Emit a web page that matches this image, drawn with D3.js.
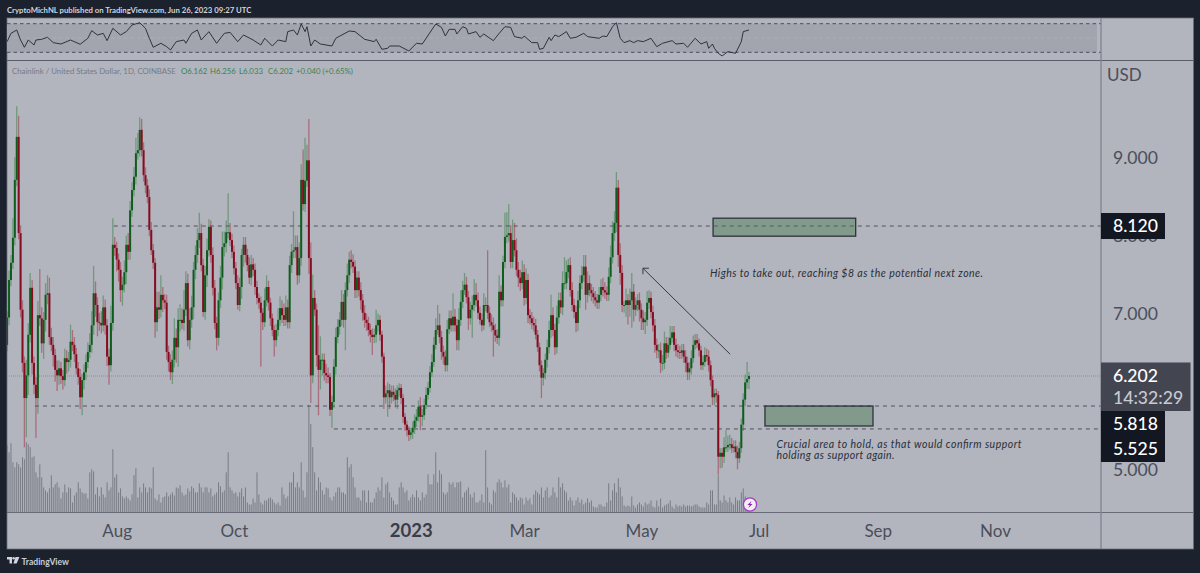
<!DOCTYPE html>
<html><head><meta charset="utf-8">
<script src="https://cdn.jsdelivr.net/npm/d3@7/dist/d3.min.js"></script>
<style>html,body{margin:0;padding:0;background:#1c212e;overflow:hidden}svg{display:block}text{font-family:Lato,"Open Sans",sans-serif}</style>
</head><body><svg id="c" width="1200" height="573"></svg>
<script>
const firstDay = "2022-06-04";
const closes = [
6.60,6.95,7.43,7.65,7.97,8.71,9.26,8.03,7.05,6.37,
5.92,6.21,6.73,7.33,6.37,6.09,5.92,6.98,6.94,6.62,
6.92,7.24,7.26,6.70,6.60,6.47,6.28,6.21,6.30,6.20,
6.15,6.43,6.38,6.41,6.64,6.60,6.48,6.30,6.19,5.93,
6.15,6.25,6.38,6.51,6.60,6.85,7.26,7.11,6.89,6.88,
6.85,7.08,6.85,6.45,6.34,6.88,7.88,7.84,7.69,7.56,
7.30,7.37,7.53,7.88,7.79,8.32,8.58,8.75,9.05,9.09,
9.35,9.09,8.77,8.64,8.49,8.07,7.81,7.65,6.89,7.08,
7.05,7.24,7.17,7.14,6.51,6.38,6.25,6.41,6.69,6.57,
6.92,6.92,6.88,7.05,7.39,6.66,6.92,7.08,7.56,7.75,
7.94,8.03,7.62,7.02,7.49,7.81,8.11,7.75,7.33,6.88,
6.69,7.17,7.46,7.85,7.90,8.04,8.04,7.94,7.79,7.58,
7.39,7.11,7.34,7.75,7.88,7.75,7.62,7.46,7.63,7.56,
7.34,7.20,7.14,7.01,6.89,7.17,7.34,7.14,6.94,6.79,
6.66,6.79,6.92,7.07,6.98,6.92,7.08,6.89,7.62,7.79,
7.81,7.85,7.49,7.71,8.71,8.40,8.70,8.96,7.71,6.21,
7.20,7.05,6.47,6.28,6.41,6.41,6.24,6.21,6.19,5.77,
5.87,6.32,6.70,6.83,6.92,7.15,6.92,7.30,7.49,7.69,
7.66,7.60,7.30,7.46,7.30,7.17,7.01,6.92,6.88,6.79,
6.73,6.70,6.73,6.85,6.92,6.73,6.45,5.93,5.98,6.02,
5.93,6.00,5.96,5.90,6.02,6.05,5.92,5.68,5.58,5.51,
5.45,5.48,5.54,5.63,5.68,5.81,5.68,5.70,5.83,5.96,
6.05,6.25,6.38,6.60,6.79,6.85,6.70,6.51,6.45,6.34,
6.80,6.94,6.85,6.96,6.85,6.66,6.92,7.15,7.30,7.37,
7.21,6.94,7.05,7.11,7.24,7.17,7.01,6.92,6.85,7.11,
7.11,7.01,6.89,6.85,6.79,6.72,6.69,7.28,7.17,7.66,
7.98,8.00,8.03,7.66,7.94,7.81,7.56,7.46,7.39,7.53,
7.20,7.43,6.98,6.94,6.88,6.85,6.73,6.57,6.34,6.18,
6.24,6.41,6.57,6.79,6.98,6.79,6.57,6.95,7.17,7.08,
7.39,7.39,7.53,7.62,7.30,7.11,7.02,6.88,7.17,7.39,
7.49,7.60,7.24,7.39,7.30,7.26,7.21,7.17,7.14,7.24,
7.34,7.30,7.27,7.24,7.47,7.72,8.03,8.16,8.61,7.75,
7.52,7.11,7.11,7.17,7.11,7.17,7.28,7.05,7.11,7.17,
7.05,6.94,6.89,6.92,7.14,7.20,7.02,6.85,6.60,6.53,
6.53,6.37,6.37,6.62,6.50,6.60,6.69,6.76,6.60,6.53,
6.51,6.50,6.53,6.45,6.37,6.25,6.30,6.43,6.60,6.66,
6.62,6.53,6.34,6.38,6.47,6.45,6.34,6.15,5.93,5.98,
5.96,5.17,5.22,5.17,5.29,5.29,5.32,5.33,5.28,5.30,
5.23,5.15,5.28,5.58,5.90,6.12,6.162,6.202];
const upperWickCents = [
10,8,12,10,25,29,39,27,10,12,
8,20,15,19,10,8,10,18,59,14,
10,15,23,20,12,10,8,12,10,8,
8,12,10,10,22,15,10,8,8,10,
8,10,10,12,15,18,35,15,10,12,
15,15,10,8,10,22,34,10,8,8,
10,10,15,12,15,12,10,12,20,22,
16,14,10,10,8,10,10,8,6,20,
20,25,10,8,10,8,10,12,25,12,
15,20,15,25,15,12,15,15,10,12,
15,26,12,8,12,15,10,8,10,10,
8,10,15,20,15,15,50,12,8,8,
8,10,12,8,10,10,8,10,12,8,
8,8,6,8,6,15,15,8,6,6,
6,8,15,15,10,15,15,10,12,10,
50,15,15,20,20,39,55,20,53,20,
30,10,8,38,30,8,8,12,10,5,
8,10,12,10,10,15,10,10,15,10,
12,10,8,8,8,10,8,10,8,8,
8,8,8,20,8,6,5,5,10,10,
8,8,8,8,6,6,5,5,5,5,
5,6,8,8,10,8,12,8,8,10,
8,8,10,10,15,26,15,8,8,8,
12,10,10,30,10,8,15,15,12,15,
10,8,10,12,20,15,10,8,8,15,
10,70,8,10,10,8,8,21,8,8,
31,30,37,10,26,22,15,10,10,15,
10,15,8,8,8,8,8,6,6,6,
6,8,10,12,26,10,8,15,10,10,
15,33,15,8,10,10,8,8,12,10,
12,15,15,15,10,8,8,8,8,10,
10,12,10,8,12,15,15,15,20,10,
15,10,5,15,8,15,24,10,10,8,
10,8,10,10,15,10,8,8,8,8,
8,10,10,15,8,10,15,8,8,8,
8,8,8,8,8,8,8,10,12,8,
8,6,6,8,10,8,8,6,6,6,
6,5,6,6,13,22,12,12,8,8,
8,8,8,8,8,10,22,5];
const lowerWickCents = [
10,8,10,8,8,10,8,8,10,12,
63,50,25,10,15,12,51,20,10,12,
20,15,12,10,8,15,15,20,12,10,
12,8,15,12,10,8,10,8,10,15,
23,12,10,8,8,10,12,15,18,10,
10,8,12,12,25,8,10,10,15,15,
15,20,10,15,10,10,8,8,10,8,
8,8,8,10,8,8,6,8,20,12,
12,10,15,8,10,12,10,15,10,20,
25,15,8,10,8,8,12,10,15,12,
10,10,8,6,10,15,8,10,10,8,
16,10,10,15,12,12,8,8,8,8,
8,6,8,15,15,10,8,8,10,8,
10,8,8,69,10,6,8,10,10,8,
21,8,8,8,10,8,8,8,8,10,
8,10,12,10,10,8,10,8,20,35,
10,8,15,58,25,20,10,10,8,8,
23,8,10,8,10,8,10,39,8,10,
8,8,10,10,8,12,10,10,10,8,
10,23,8,10,8,8,8,15,8,30,
15,8,8,10,12,8,8,8,8,8,
8,6,8,8,8,6,17,12,6,5,
6,6,6,6,6,6,8,10,10,8,
8,6,8,8,8,13,13,8,8,6,
8,15,8,36,8,8,8,6,8,6,
8,8,6,8,34,8,8,10,8,8,
8,8,8,8,8,8,8,12,10,8,
10,8,10,8,8,8,6,6,8,26,
10,8,10,8,10,8,10,8,8,8,
10,8,8,8,8,8,8,12,10,10,
8,8,19,10,8,10,8,8,8,8,
8,8,8,8,8,8,8,10,12,15,
15,9,10,15,25,15,35,15,8,8,
15,15,10,15,8,8,8,8,10,10,
10,13,10,8,8,6,6,6,8,8,
8,8,8,8,12,10,10,8,6,6,
6,8,6,6,6,6,8,8,10,10,
10,23,15,14,8,6,6,6,6,6,
8,14,6,6,8,8,8,13];
const volumes = [
60,67,60,69,50,45,50,48,45,55,
53,70,68,65,55,56,40,35,48,35,
25,22,20,24,37,25,28,30,25,14,
20,28,20,25,24,10,17,20,30,24,
20,19,19,14,40,43,41,18,25,16,
25,18,15,30,22,25,63,35,38,20,
24,16,14,16,14,12,18,37,44,15,
25,20,29,25,20,25,24,45,14,12,
18,10,15,16,20,16,18,20,17,25,
24,27,20,17,18,24,21,26,24,20,
20,29,25,20,25,25,20,24,16,18,
20,30,26,20,22,40,60,25,22,19,
20,16,20,24,16,25,10,8,8,14,
10,40,18,10,8,12,12,14,15,13,
10,8,10,7,25,18,14,16,30,30,
40,25,30,25,50,22,15,40,107,88,
65,40,22,35,30,22,18,25,24,15,
12,16,20,25,25,20,20,18,55,45,
48,35,25,15,15,12,22,22,10,22,
10,10,14,20,25,22,35,15,28,30,
20,15,12,8,8,25,30,25,20,22,
12,15,18,15,22,15,12,20,15,18,
38,28,28,38,60,30,42,38,20,18,
20,30,28,30,25,30,30,31,15,20,
22,25,18,15,20,10,10,12,18,10,
62,25,10,8,22,20,30,33,30,25,
32,25,28,10,20,18,15,12,15,14,
8,15,12,14,8,18,22,20,18,25,
15,22,25,15,17,25,20,15,35,25,
29,22,20,12,15,12,7,12,15,10,
13,8,10,14,10,12,6,5,5,8,
8,6,6,10,29,12,22,29,20,34,
25,16,7,6,7,6,16,7,5,8,
10,8,6,10,8,9,12,6,5,12,
6,14,5,7,8,9,12,6,4,8,
6,7,6,8,6,7,7,6,7,8,
8,6,5,5,5,10,8,22,22,8,
8,37,12,10,17,12,10,15,10,8,
15,12,12,20,24,16,14,10];
const rsiDays = [1,3,6,8,10,12,15,16,19,22,25,29,34,39,43,45,48,51,53,56,60,63,66,70,73,75,77,81,84,86,89,93,94,97,100,102,106,110,114,117,121,124,129,133,135,139,142,146,147,150,152,154,156,157,159,161,164,170,172,179,182,187,192,193,196,199,200,205,210,214,217,224,227,229,231,234,235,238,240,241,245,247,249,254,257,260,263,265,269,270,274,277,278,280,283,284,286,288,292,294,297,301,303,309,311,313,316,318,320,322,325,327,329,332,336,339,342,347,349,353,355,359,362,365,366,368,369,371,373,376,380,383,384,387];
const rsiValues = [44.9,56.5,61.2,47.2,37,47.2,40.2,47.2,48.2,51,43.5,41.6,47.2,41.2,49.6,60.3,54.2,56.5,46.3,63.5,54.2,58.9,68.2,71.4,63.5,49.6,37,42.6,37.9,33.3,44.9,47.2,42.6,56.5,61.2,47.2,58.9,42.6,56.5,57.9,44.9,54.2,47.2,40.2,49.6,38.8,47.2,44.9,58.9,61.2,54.2,69.6,58.9,65.8,38.8,47.2,41.6,38.8,49.6,59.8,58.9,48.2,44.9,48.2,34.2,35.6,38.8,38.8,31.9,42.6,41.6,69.6,64.9,52.8,62.1,62.1,55.6,65.8,63.5,55.6,58.9,51,55.6,46.3,56.5,65.8,64.9,51.9,49.6,52.8,43.5,43.5,34.2,35.6,51,46.3,54.2,51.9,58.9,49.6,51,56.5,51.9,49.6,52.8,51.9,65.8,71.4,49.6,43.5,46.3,43.5,46.3,44.9,49.6,37.9,42.6,46.3,41.6,42.6,37,49.6,41.6,44.9,35.6,41.6,35.6,28.6,24.9,30.9,28.6,44.9,58.9,61.2];
const priceTicks = [9,8,7,5];
const rsiLevels = [70,50,30];
const monthTicks = ["2022-08-01","2022-10-01","2023-01-01","2023-03-01","2023-05-01","2023-07-01","2023-09-01","2023-11-01"];
const levelLines = [{price:8.12,fromDay:56.5},{price:5.818,fromDay:15.5},{price:5.525,fromDay:171}];
const zones = [{fromDay:368.3,toDay:442.5,top:8.22,bottom:7.99},{fromDay:395.3,toDay:451.5,top:5.818,bottom:5.563}];
const arrow = {fromDay:377.2,fromPrice:6.48,toDay:331.8,toPrice:7.58};
const titleText = "CryptoMichNL published on TradingView.com, Jun 26, 2023 09:27 UTC";
const legendName = "Chainlink / United States Dollar, 1D, COINBASE";
const legendValues = ["O6.162","H6.256","L6.033","C6.202","+0.040 (+0.65%)"];

const dayMs = 864e5, t0 = Date.parse(firstDay+"T00:00:00Z");
const dateOf = d => new Date(t0 + d*dayMs);
const svg = d3.select("#c");
const L=7,R=1193.5,T=18,B=549,AX=1101,RB=60.5,XB=512.5;
const x = d3.scaleUtc().domain([dateOf(0),dateOf(570.1)]).range([5.2,5.2+1.922*570.1]);
const y = d3.scaleLinear().domain([5,9]).range([470,157.2]);
const yRsi = d3.scaleLinear().domain([30,70]).range([52.3,23.7]);
const yVol = d3.scaleLinear().domain([0,107]).range([XB,405]);

svg.append("rect").attr("width",1200).attr("height",573).attr("fill","#1c212e");
svg.append("rect").attr("x",L).attr("y",T).attr("width",R-L).attr("height",B-T).attr("fill","#b2b5be").attr("stroke","#6b6e79").attr("stroke-width",.8);
svg.append("text").attr("x",7).attr("y",12.5).attr("fill","#d1d4dc").attr("font-size",7.75).attr("font-weight",700).text(titleText);

const defs=svg.append("defs");
defs.append("clipPath").attr("id","plot").append("rect").attr("x",L).attr("y",RB).attr("width",AX-L).attr("height",XB-RB);
defs.append("clipPath").attr("id","rsi").append("rect").attr("x",L).attr("y",T).attr("width",AX-L).attr("height",RB-T);

// RSI pane
const rsiG=svg.append("g").attr("clip-path","url(#rsi)");
rsiG.append("rect").attr("x",L).attr("width",1097-L).attr("y",yRsi(70)).attr("height",yRsi(30)-yRsi(70)).attr("fill","#a3a5ae");
rsiG.selectAll("line.l").data(rsiLevels).join("line").attr("x1",L).attr("x2",AX).attr("y1",d=>yRsi(d)).attr("y2",d=>yRsi(d))
  .attr("stroke",d=>d===50?"#adafb8":"#4c4f5b").attr("stroke-width",1).attr("stroke-dasharray","3.5,3");
rsiG.append("path").attr("fill","none").attr("stroke","#30333d").attr("stroke-width",1)
  .attr("d",d3.line().x((d,i)=>x(dateOf(rsiDays[i]))).y(d=>yRsi(d))(rsiValues));
svg.append("line").attr("x1",L).attr("x2",R).attr("y1",RB).attr("y2",RB).attr("stroke","#5a5d69").attr("stroke-width",1);

// candles
const candles = closes.map((c,i)=>{
  const o = i? closes[i-1] : c-0.2;
  return {i,o,c,h:Math.max(o,c)+upperWickCents[i]/100,l:Math.min(o,c)-lowerWickCents[i]/100,v:volumes[i]};
});
const plot=svg.append("g").attr("clip-path","url(#plot)");
plot.append("g").selectAll("rect").data(candles).join("rect")
  .attr("x",d=>x(dateOf(d.i))-.5).attr("width",1).attr("y",d=>yVol(d.v)).attr("height",d=>XB-yVol(d.v)).attr("fill","#73757e").attr("opacity",.9);
plot.append("line").attr("x1",L).attr("x2",AX).attr("y1",y(6.202)).attr("y2",y(6.202)).attr("stroke","#84868f").attr("stroke-width",.8).attr("stroke-dasharray","1,1");
plot.append("g").selectAll("line").data(levelLines).join("line")
  .attr("x1",d=>x(dateOf(d.fromDay))).attr("x2",AX).attr("y1",d=>y(d.price)).attr("y2",d=>y(d.price))
  .attr("stroke","#4f525e").attr("stroke-width",1).attr("stroke-dasharray","4,4");
const g=plot.append("g");
g.selectAll("line").data(candles).join("line")
  .attr("x1",d=>x(dateOf(d.i))).attr("x2",d=>x(dateOf(d.i))).attr("y1",d=>y(d.h)).attr("y2",d=>y(d.l))
  .attr("stroke",d=>d.c>=d.o?"#2f7d3f":"#a0283c").attr("stroke-opacity",.5).attr("stroke-width",1.3);
g.selectAll("rect").data(candles).join("rect")
  .attr("x",d=>x(dateOf(d.i))-1).attr("width",2)
  .attr("y",d=>y(Math.max(d.o,d.c))).attr("height",d=>Math.max(1,Math.abs(y(d.o)-y(d.c))))
  .attr("fill",d=>d.c>=d.o?"#0f5c1c":"#860c20");

// zones
plot.append("g").selectAll("rect").data(zones).join("rect")
  .attr("x",d=>x(dateOf(d.fromDay))).attr("width",d=>x(dateOf(d.toDay))-x(dateOf(d.fromDay)))
  .attr("y",d=>y(d.top)).attr("height",d=>y(d.bottom)-y(d.top))
  .attr("fill","#46794f").attr("fill-opacity",.45).attr("stroke","#2e323c").attr("stroke-width",1.3);

// arrow
const ax0=x(dateOf(arrow.fromDay)),ay0=y(arrow.fromPrice),ax1=x(dateOf(arrow.toDay)),ay1=y(arrow.toPrice);
plot.append("line").attr("x1",ax0).attr("y1",ay0).attr("x2",ax1).attr("y2",ay1).attr("stroke","#363a45").attr("stroke-width",1);
plot.append("path").attr("fill","none").attr("stroke","#363a45").attr("stroke-width",1)
  .attr("d",`M${ax1+6},${ay1} L${ax1},${ay1} L${ax1},${ay1+6}`);

// notes
const note=(tx,ty,s,w)=>svg.append("text").attr("x",tx).attr("y",ty).attr("font-size",10.5).attr("font-style","italic").attr("fill","#2a2e39")
  .attr("textLength",w).attr("lengthAdjust","spacing").text(s);
note(710,277,"Highs to take out, reaching $8 as the potential next zone.",273);
note(776.5,448,"Crucial area to hold, as that would confirm support",245);
note(776.5,458.5,"holding as support again.",118);

// lightning
const bolt=svg.append("g").attr("transform",`translate(${x(dateOf(387.5))},504.5)`);
bolt.append("circle").attr("r",6.6).attr("fill","#f3eef5").attr("stroke","#a43bc4").attr("stroke-width",1.3);
bolt.append("path").attr("d","M1.6,-3.4 L-2.6,0.6 L-0.2,0.6 L-1.6,3.4 L2.6,-0.6 L0.2,-0.6 Z").attr("fill","#8e24aa");

// legend
svg.append("text").attr("x",12).attr("y",73.5).attr("font-size",7.8).attr("fill","#777a86").text(legendName);
const lx=[181,210,239,268,296];
svg.selectAll("text.lv").data(legendValues).join("text").attr("class","lv").attr("x",(d,i)=>lx[i]).attr("y",73.5).attr("font-size",7.8).attr("fill","#3f7f4f").text(d=>d);

// axes
svg.append("line").attr("x1",L).attr("x2",R).attr("y1",XB).attr("y2",XB).attr("stroke","#686b77").attr("stroke-width",1);
svg.append("line").attr("x1",AX).attr("x2",AX).attr("y1",T).attr("y2",B).attr("stroke","#81848f").attr("stroke-width",1.3);
const xAxis=d3.axisBottom(x).tickValues(monthTicks.map(s=>new Date(s+"T00:00:00Z"))).tickSize(0).tickPadding(0)
  .tickFormat(d=>d.getUTCMonth()===0?String(d.getUTCFullYear()):d3.utcFormat("%b")(d));
const xa=svg.append("g").attr("transform",`translate(0,${XB})`).call(xAxis);
xa.select(".domain").remove();
xa.selectAll("text").attr("y",24).attr("dy",0).attr("font-size",17).attr("fill","#4b4e5b").style("font-family","Lato,sans-serif")
  .filter(d=>d.getUTCMonth()===0).attr("font-size",18.5).attr("font-weight",700).attr("fill","#3a3d49");
const yAxis=d3.axisRight(y).tickValues(priceTicks).tickSize(0).tickFormat(d3.format(".3f"));
const ya=svg.append("g").attr("transform",`translate(${AX},0)`).call(yAxis);
ya.select(".domain").remove();
ya.selectAll("text").attr("x",57).attr("dy","0.34em").attr("text-anchor","end").attr("font-size",17.6).attr("fill","#4b4e5b").style("font-family","Lato,sans-serif");
svg.append("text").attr("x",1107).attr("y",81).attr("font-size",17).attr("fill","#4b4e5b").text("USD");

// price tags
const tag=(yTop,yBot,w,fill)=>svg.append("rect").attr("x",AX).attr("y",yTop).attr("width",w).attr("height",yBot-yTop).attr("fill",fill);
const tagText=(s,cy,c)=>svg.append("text").attr("x",1113).attr("y",cy).attr("dy","0.34em").attr("font-size",17.6).attr("font-weight",500).attr("fill",c).text(s);
tag(y(8.12)-13,y(8.12)+13,64,"#131722"); tagText("8.120",y(8.12),"#fff");
tag(362.5,411,89.5,"#434651"); tagText("6.202",376.5,"#fff");
tagText("14:32:29",398.5,"#c8cad1");
tag(411,462,64,"#131722"); tagText("5.818",424,"#fff"); tagText("5.525",449.5,"#fff");

// footer
const logo=svg.append("g").attr("transform","translate(7,557)").attr("fill","#d1d4dc");
logo.append("path").attr("d","M0,0 H5 V6.5 H2.5 V2.5 H0 Z");
logo.append("circle").attr("cx",6.6).attr("cy",1.3).attr("r",1.3);
logo.append("path").attr("d","M8.5,0 H12.4 L9.6,6.5 H6.4 Z");
svg.append("text").attr("x",21.5).attr("y",564.5).attr("font-size",8.6).attr("font-weight",700).attr("fill","#c9ccd4").text("TradingView");
</script></body></html>
